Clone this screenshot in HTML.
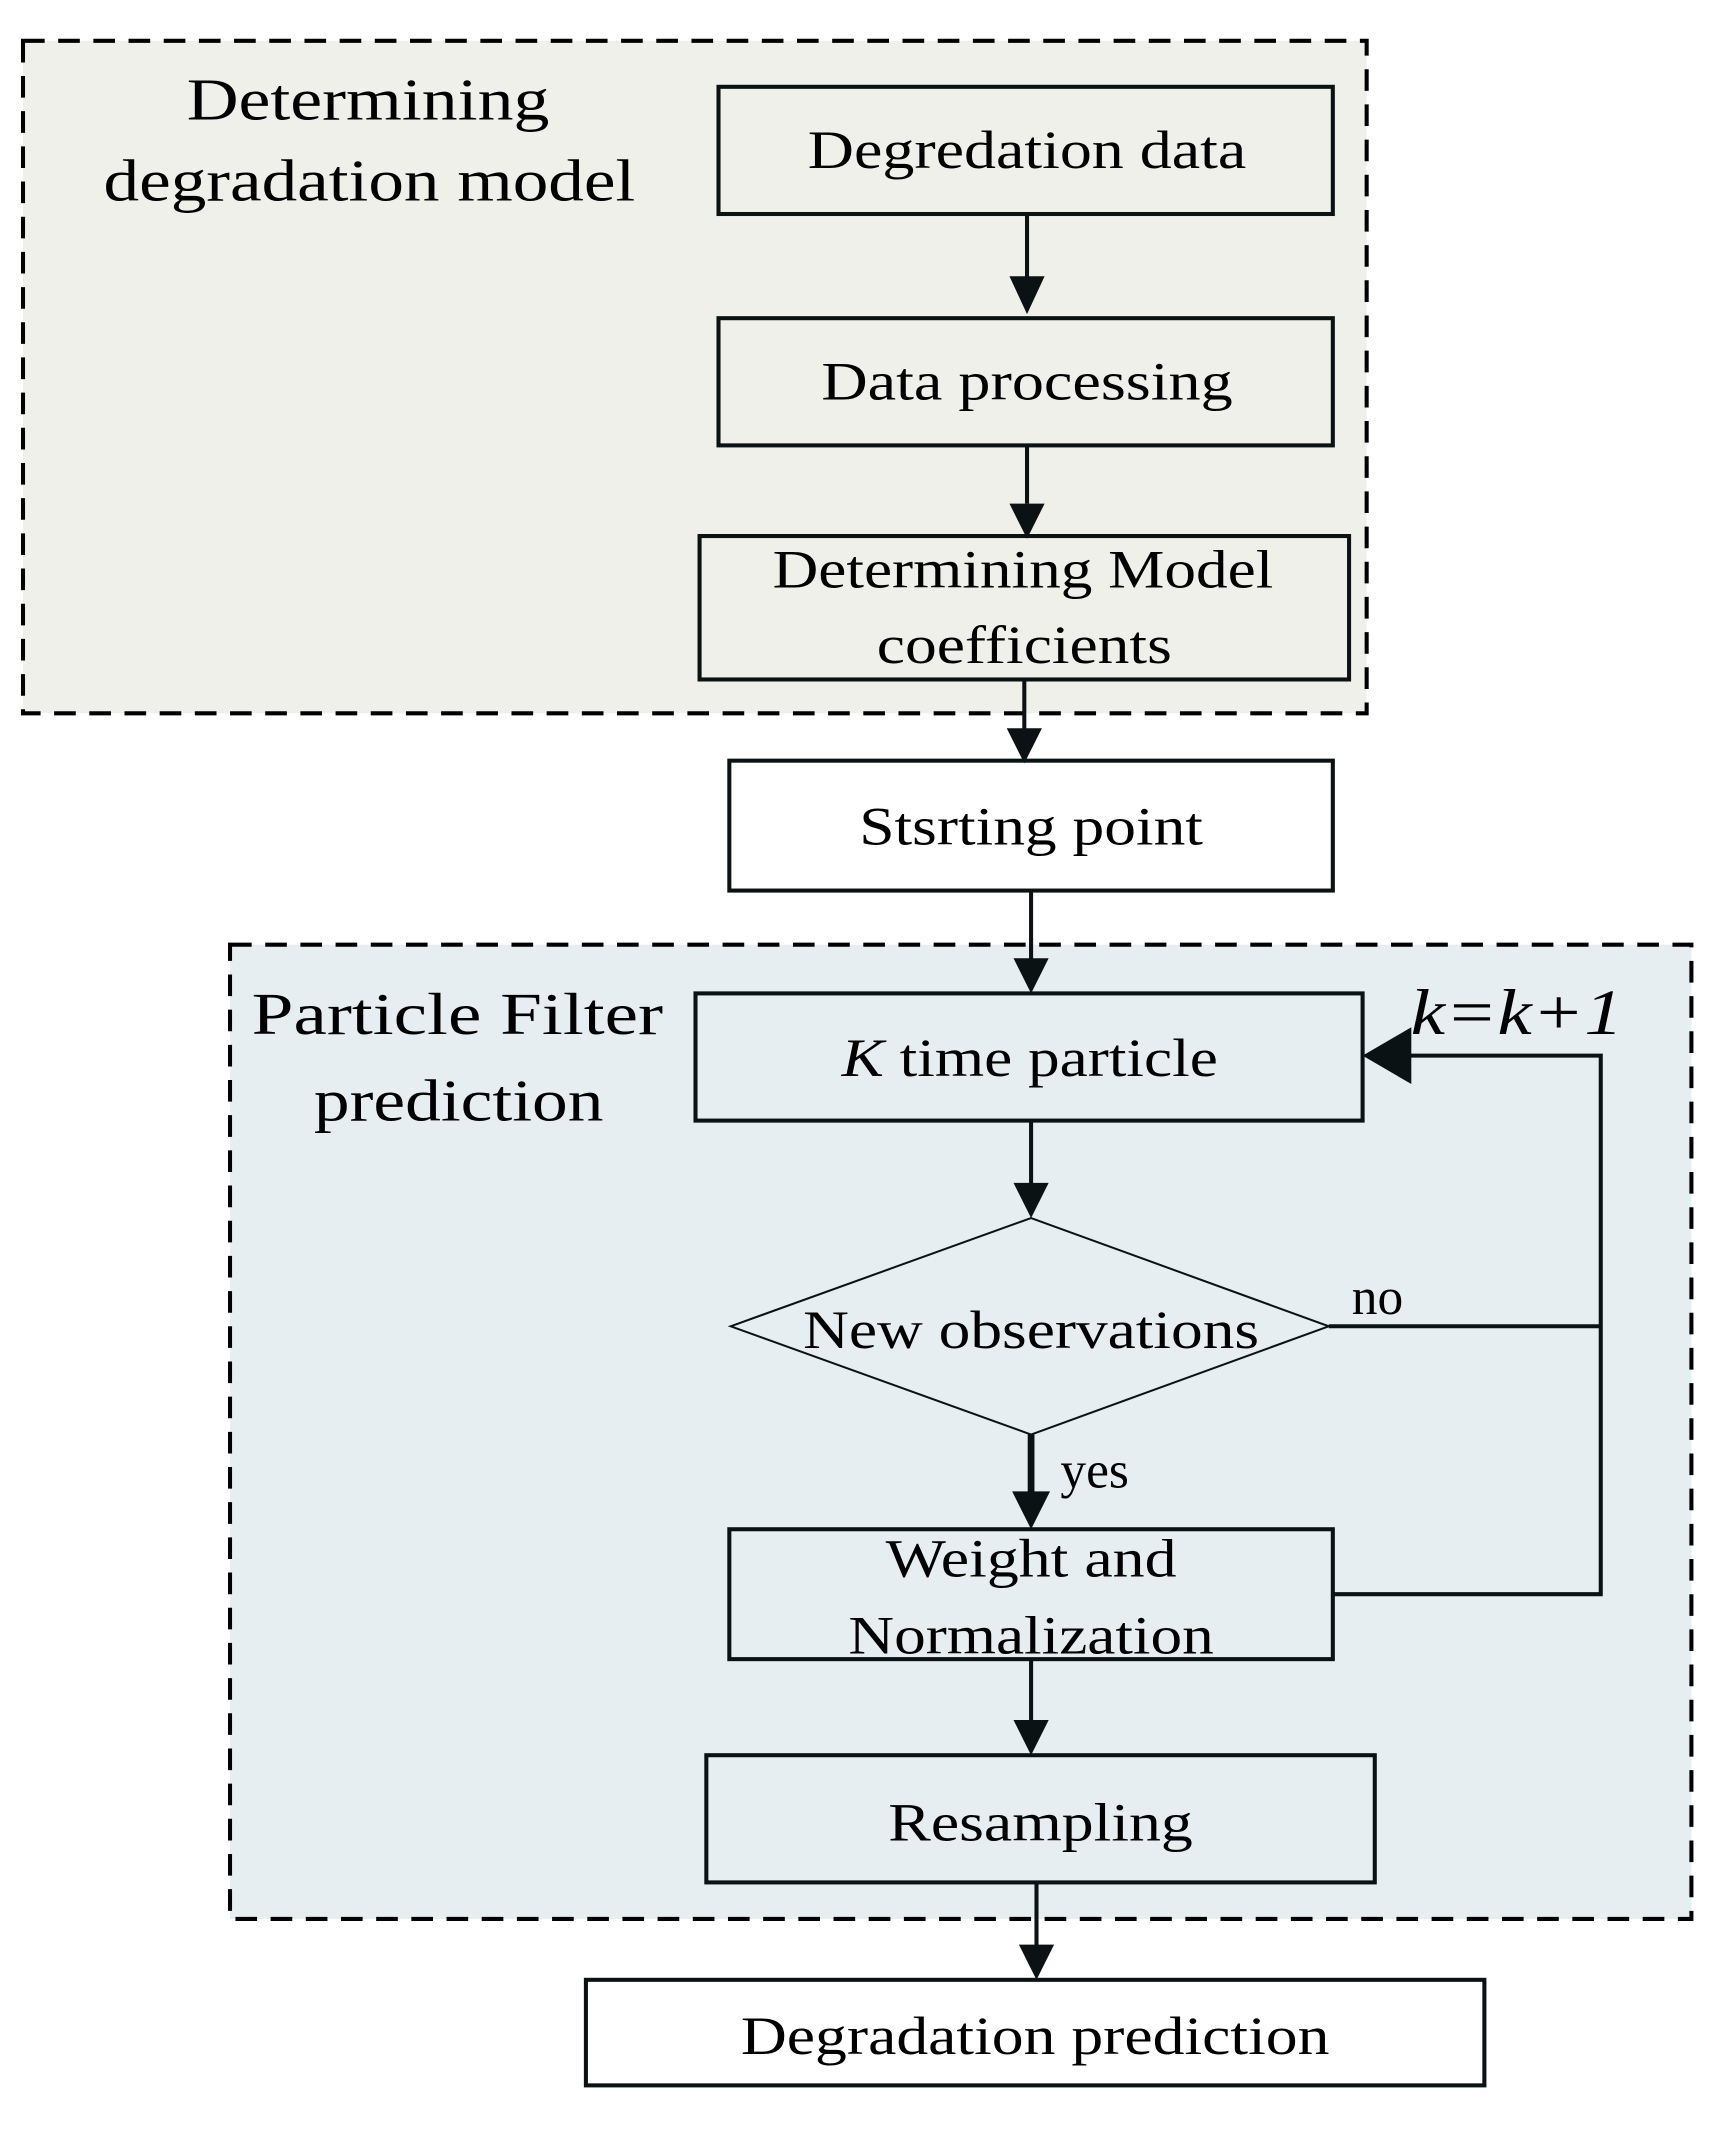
<!DOCTYPE html>
<html><head><meta charset="utf-8"><style>html,body{margin:0;padding:0;background:#fff}svg{display:block}text{font-family:"Liberation Serif",serif}</style></head>
<body>
<svg width="1732" height="2137" viewBox="0 0 1280 1579" xmlns="http://www.w3.org/2000/svg" font-family="'Liberation Serif', serif" fill="#000">
<rect x="17" y="30" width="993" height="497" fill="#eff0e9" stroke="#000" stroke-width="3" stroke-dasharray="16,10"/>
<rect x="170" y="698" width="1080" height="720" fill="#e6eef1" stroke="#000" stroke-width="3" stroke-dasharray="16,10"/>
<g fill="none" stroke="#0a1214" stroke-width="3">
<rect x="531" y="64" width="454" height="94"/>
<rect x="531" y="235" width="454" height="94"/>
<rect x="517" y="396" width="480" height="106"/>
<rect x="539" y="562" width="446" height="96" fill="#fff"/>
<rect x="514" y="734" width="493" height="94"/>
<rect x="539" y="1130" width="446" height="96"/>
<rect x="522" y="1297" width="494" height="94"/>
<rect x="433" y="1463" width="664" height="78" fill="#fff"/>
<polygon points="540,980 762,900 982,980 762,1060" stroke-width="1.5"/>
<line x1="759" y1="158" x2="759" y2="210"/>
<line x1="759" y1="329" x2="759" y2="372"/>
<line x1="757" y1="502" x2="757" y2="540"/>
<line x1="762" y1="658" x2="762" y2="712"/>
<line x1="762" y1="828" x2="762" y2="878"/>
<line x1="762" y1="1060" x2="762" y2="1108" stroke-width="5"/>
<line x1="762" y1="1226" x2="762" y2="1275"/>
<line x1="766" y1="1391" x2="766" y2="1441"/>
<polyline points="982,980 1183,980"/>
<polyline points="985,1178 1183,1178 1183,780 1040,780"/>
</g>
<g fill="#0a1214">
<polygon points="746,204 772,204 759,232"/>
<polygon points="746,372 772,372 759,398"/>
<polygon points="744,538 770,538 757,564"/>
<polygon points="749,708 775,708 762,734"/>
<polygon points="749,874 775,874 762,900"/>
<polygon points="748,1102 776,1102 762,1130"/>
<polygon points="749,1271 775,1271 762,1297"/>
<polygon points="753,1437 779,1437 766,1463"/>
<polygon points="1007,780 1043,759 1043,801"/>
</g>
<g font-size="44" text-anchor="middle">
<text x="272" y="88" textLength="268" lengthAdjust="spacingAndGlyphs">Determining</text>
<text x="273" y="148" textLength="393" lengthAdjust="spacingAndGlyphs">degradation model</text>
<text x="759" y="124" font-size="40" textLength="324" lengthAdjust="spacingAndGlyphs">Degredation data</text>
<text x="759" y="295" font-size="40" textLength="304" lengthAdjust="spacingAndGlyphs">Data processing</text>
<text x="756" y="434" font-size="40" textLength="370" lengthAdjust="spacingAndGlyphs">Determining Model</text>
<text x="757" y="490" font-size="40" textLength="218" lengthAdjust="spacingAndGlyphs">coefficients</text>
<text x="762" y="624" font-size="40" textLength="254" lengthAdjust="spacingAndGlyphs">Stsrting point</text>
<text x="338" y="764" textLength="304" lengthAdjust="spacingAndGlyphs">Particle  Filter</text>
<text x="339" y="828" textLength="214" lengthAdjust="spacingAndGlyphs">prediction</text>
<text x="761" y="795" font-size="40" textLength="278" lengthAdjust="spacingAndGlyphs"><tspan font-style="italic">K</tspan> time particle</text>
<text x="762" y="996" font-size="40" textLength="337" lengthAdjust="spacingAndGlyphs">New observations</text>
<text x="762" y="1165" font-size="40" textLength="215" lengthAdjust="spacingAndGlyphs">Weight and</text>
<text x="762" y="1222" font-size="40" textLength="270" lengthAdjust="spacingAndGlyphs">Normalization</text>
<text x="769" y="1360" font-size="40" textLength="225" lengthAdjust="spacingAndGlyphs">Resampling</text>
<text x="765" y="1518" font-size="40" textLength="435" lengthAdjust="spacingAndGlyphs">Degradation prediction</text>
<text x="1121" y="764" font-size="48" font-style="italic" textLength="157" lengthAdjust="spacingAndGlyphs">k=k+1</text>
<text x="1018" y="971" font-size="38">no</text>
<text x="809" y="1099" font-size="38">yes</text>
</g>
</svg>
</body></html>
